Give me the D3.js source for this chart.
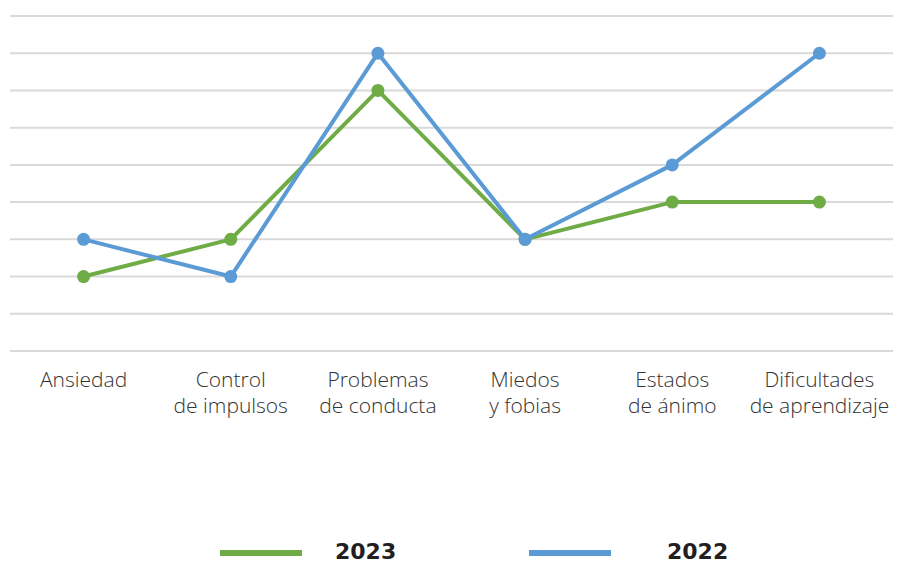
<!DOCTYPE html>
<html>
<head>
<meta charset="utf-8">
<script src="https://cdn.jsdelivr.net/npm/d3@7"></script>
<style>
  body { margin: 0; background: #fff; }
  svg { display: block; }
</style>
</head>
<body>
<div id="chart"></div>
<script>
// data (in grid steps)
var categories = [
    ["Ansiedad"],
    ["Control", "de impulsos"],
    ["Problemas", "de conducta"],
    ["Miedos", "y fobias"],
    ["Estados", "de ánimo"],
    ["Dificultades", "de aprendizaje"]
];
var values2023 = [2, 3, 7, 3, 4, 4];
var values2022 = [3, 2, 8, 3, 5, 8];
var yTicks = [0, 1, 2, 3, 4, 5, 6, 7, 8, 9];
var seriesNames = ["2023", "2022"];

var width = 914, height = 564;
var green = "#6fac46", blue = "#5b9bd5";

var svg = d3.select("#chart").append("svg")
    .attr("width", width)
    .attr("height", height);

var x = d3.scaleBand()
    .domain(d3.range(categories.length))
    .range([10, 893]);

var y = d3.scaleLinear()
    .domain([0, 9])
    .range([351, 16]);

// gridlines
svg.append("g")
    .selectAll("line")
    .data(yTicks)
    .enter()
    .append("line")
    .attr("x1", 10)
    .attr("x2", 893)
    .attr("y1", function (d) { return y(d); })
    .attr("y2", function (d) { return y(d); })
    .style("stroke", "#d9d9d9")
    .style("stroke-width", 2);

// category labels
var labels = svg.append("g")
    .selectAll("text")
    .data(categories)
    .enter()
    .append("text")
    .attr("text-anchor", "middle")
    .style("font-family", "'Open Sans', sans-serif")
    .style("font-weight", 300)
    .style("font-size", "21px")
    .style("fill", "#333");
labels.each(function (d, i) {
    var t = d3.select(this);
    d.forEach(function (line, j) {
        t.append("tspan")
            .attr("x", x(i) + x.bandwidth() / 2)
            .attr("y", 387 + j * 26)
            .text(line);
    });
});

var line = d3.line()
    .x(function (d, i) { return x(i) + x.bandwidth() / 2; })
    .y(function (d) { return y(d); });

function drawSeries(vals, color) {
    var g = svg.append("g");
    g.append("path")
        .datum(vals)
        .attr("d", line)
        .style("fill", "none")
        .style("stroke", color)
        .style("stroke-width", 4)
        .style("stroke-linejoin", "round");
    g.selectAll("circle")
        .data(vals)
        .enter()
        .append("circle")
        .attr("cx", function (d, i) { return x(i) + x.bandwidth() / 2; })
        .attr("cy", function (d) { return y(d); })
        .attr("r", 6.5)
        .style("fill", color);
}
drawSeries(values2023, green);
drawSeries(values2022, blue);

// legend
var legend = svg.append("g");
var legendX = [220, 529];
var legendTextX = [335, 667];
[green, blue].forEach(function (c, i) {
    legend.append("rect")
        .attr("x", legendX[i])
        .attr("y", 550)
        .attr("width", 82)
        .attr("height", 6)
        .style("fill", c);
    legend.append("text")
        .attr("x", legendTextX[i])
        .attr("y", 559)
        .style("font-family", "'DejaVu Sans', Arial, sans-serif")
        .style("font-weight", "bold")
        .style("font-size", "22px")
        .style("fill", "#231f20")
        .text(seriesNames[i]);
});
</script>
</body>
</html>
